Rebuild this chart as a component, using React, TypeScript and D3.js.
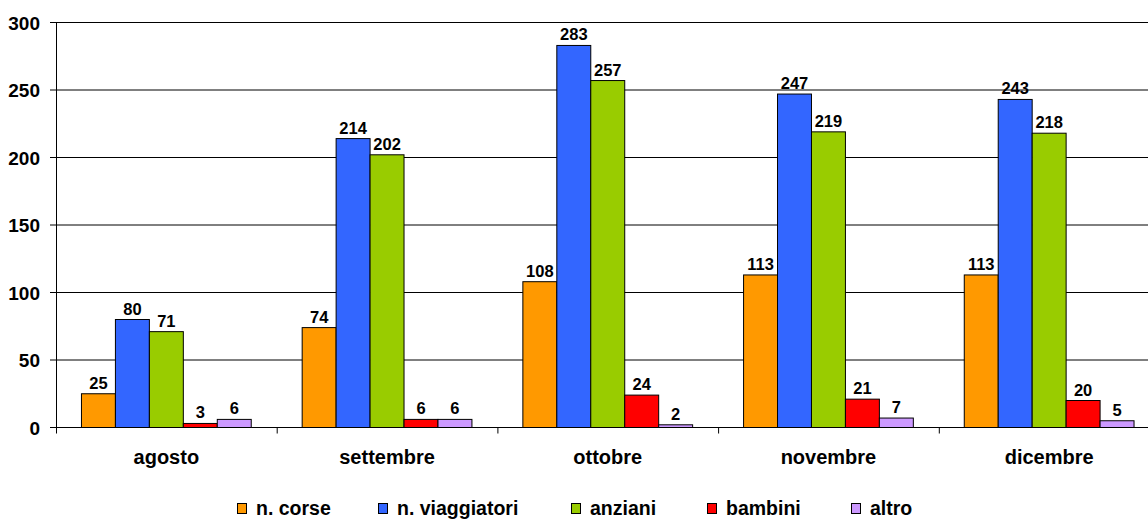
import React from "react";
import * as d3 from "d3";

const months = ["agosto", "settembre", "ottobre", "novembre", "dicembre"];
const seriesNames = ["n. corse", "n. viaggiatori", "anziani", "bambini", "altro"];
const seriesColors = ["#FF9900", "#3366FF", "#99CC00", "#FF0000", "#CC99FF"];
const nCorse = [25, 74, 108, 113, 113];
const nViaggiatori = [80, 214, 283, 247, 243];
const anziani = [71, 202, 257, 219, 218];
const bambini = [3, 6, 24, 21, 20];
const altro = [6, 6, 2, 7, 5];
const yTicks = [0, 50, 100, 150, 200, 250, 300];

const seriesValues = [nCorse, nViaggiatori, anziani, bambini, altro];

const W = 1148;
const H = 520;
const FONT = "'Liberation Sans', Arial, Helvetica, sans-serif";

// legend layout (swatch x positions)
const legendX = [237.5, 378.5, 571.5, 707.5, 851.5];

export default function App() {
  const x0 = d3.scaleBand<string>().domain(months).range([56, 1159.5]).paddingInner(0).paddingOuter(0);
  const x1 = d3
    .scaleBand<string>()
    .domain(seriesNames)
    .range([0, x0.bandwidth()])
    .paddingInner(0)
    .paddingOuter(0.75);
  const y = d3.scaleLinear().domain([0, 300]).range([427.5, 22.5]);

  const boundaries = months.map((m) => x0(m)!).concat([x0(months[months.length - 1])! + x0.bandwidth()]);

  return (
    <svg
      width={W}
      height={H}
      style={{ position: "absolute", left: 0, top: 0, background: "#fff" }}
      fontFamily={FONT}
      fontWeight="bold"
    >
      <rect x={0} y={0} width={W} height={H} fill="#fff" />
      {/* gridlines */}
      {yTicks.map((t) => (
        <line key={"g" + t} x1={50} x2={W} y1={y(t)} y2={y(t)} stroke="#000" strokeWidth={1} />
      ))}
      {/* y axis */}
      <line x1={56.5} x2={56.5} y1={y(300)} y2={y(0)} stroke="#000" strokeWidth={1} />
      {/* x ticks */}
      {boundaries.map((b, i) => (
        <line key={"xt" + i} x1={b + 0.5} x2={b + 0.5} y1={y(0)} y2={y(0) + 6} stroke="#000" strokeWidth={1} />
      ))}
      {/* y labels */}
      {yTicks.map((t) => (
        <text key={"yl" + t} x={40} y={y(t) + 7} textAnchor="end" fontSize={19} fill="#000">
          {t}
        </text>
      ))}
      {/* bars */}
      {months.map((m, mi) => (
        <g key={m} transform={`translate(${x0(m)},0)`}>
          {seriesNames.map((s, si) => {
            const v = seriesValues[si][mi];
            const bx = x1(s)!;
            return (
              <g key={s}>
                <rect
                  x={bx}
                  y={y(v)}
                  width={x1.bandwidth()}
                  height={y(0) - y(v)}
                  fill={seriesColors[si]}
                  stroke="#000"
                  strokeWidth={1}
                />
                <text
                  x={bx + x1.bandwidth() / 2}
                  y={y(v) - 5}
                  textAnchor="middle"
                  fontSize={16.5}
                  fill="#000"
                >
                  {v}
                </text>
              </g>
            );
          })}
          <text x={x0.bandwidth() / 2} y={464} textAnchor="middle" fontSize={20} fill="#000">
            {m}
          </text>
        </g>
      ))}
      {/* legend */}
      {seriesNames.map((s, i) => (
        <g key={"lg" + s}>
          <rect x={legendX[i]} y={503.5} width={9} height={10} fill={seriesColors[i]} stroke="#000" strokeWidth={1} />
          <text x={legendX[i] + 18.5} y={515} fontSize={19.5} fill="#000">
            {s}
          </text>
        </g>
      ))}
    </svg>
  );
}
